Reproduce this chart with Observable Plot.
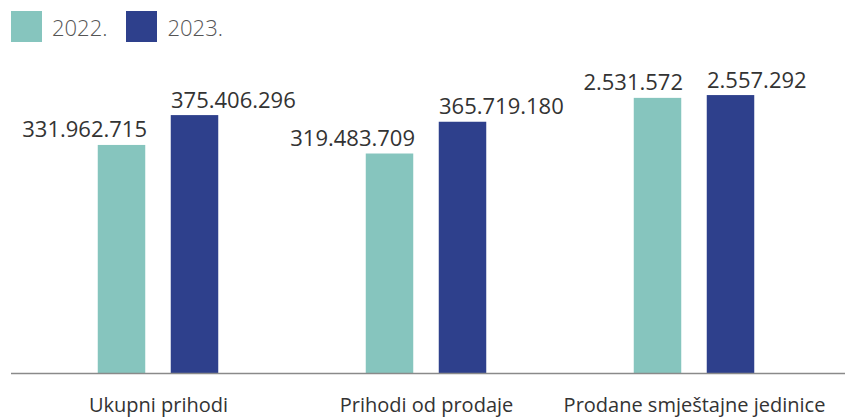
<!DOCTYPE html>
<html>
<head>
<meta charset="utf-8">
<script src="https://cdn.jsdelivr.net/npm/d3@7"></script>
<script src="https://cdn.jsdelivr.net/npm/@observablehq/plot@0.6"></script>
<style>
  body { margin: 0; background: #fff; font-family: "Open Sans", sans-serif; }
  #wrap { position: relative; width: 849px; height: 419px; overflow: hidden; }
  #legend { position: absolute; left: 11px; top: 11px; display: flex; align-items: center; font-size: 22px; font-weight: 300; color: #555; }
  #legend .sw { width: 31px; height: 31px; display: inline-block; margin-right: 10px; }
  #legend .item { display: flex; align-items: center; margin-right: 19px; }
  .p { position: absolute; top: 0; }
</style>
</head>
<body>
<div id="wrap">
  <div id="legend"></div>
  <div id="pa" class="p" style="left:0px"></div>
  <div id="pb" class="p" style="left:560px"></div>
</div>
<script>
const categories = ["Ukupni prihodi", "Prihodi od prodaje", "Prodane smještajne jedinice"];
const years = ["2022.", "2023."];
const values2022 = [331962715, 319483709, 2531572];
const values2023 = [375406296, 365719180, 2557292];
const colors = ["#86C5BE", "#2E408C"];

const hr = d3.formatLocale({decimal: ",", thousands: ".", grouping: [3], currency: ["", ""]});
const fmt = hr.format(",d");

const rows = [];
categories.forEach((c, i) => {
  rows.push({cat: c, year: years[0], value: values2022[i]});
  rows.push({cat: c, year: years[1], value: values2023[i]});
});

// legend
const leg = document.getElementById("legend");
years.forEach((y, i) => {
  const it = document.createElement("span");
  it.className = "item";
  it.innerHTML = `<span class="sw" style="background:${colors[i]}"></span>${y}`;
  leg.appendChild(it);
});

function makePlot(cats, opts) {
  const data = rows.filter(d => cats.includes(d.cat));
  const d22 = data.filter(d => d.year === years[0]);
  const d23 = data.filter(d => d.year === years[1]);
  return Plot.plot({
    width: opts.width,
    height: 419,
    marginTop: 60,
    marginBottom: 46,
    marginLeft: opts.marginLeft,
    marginRight: opts.marginRight,
    style: {fontFamily: "'Open Sans', sans-serif", color: "#333", background: "transparent", overflow: "visible"},
    x: {domain: cats, range: opts.xRange, padding: 0, axis: null},
    y: {domain: [0, opts.yMax], axis: null},
    marks: [
      Plot.barY(d22, {x: "cat", y: "value", fill: colors[0], insetLeft: 73.75, insetRight: 146.75}),
      Plot.barY(d23, {x: "cat", y: "value", fill: colors[1], insetLeft: 146.75, insetRight: 73.75}),
      Plot.text(d22, {x: "cat", y: "value", text: d => fmt(d.value), dx: -11.5, dy: -15, textAnchor: "end", fontSize: 22, fill: "#333"}),
      Plot.text(d23, {x: "cat", y: "value", text: d => fmt(d.value), dx: 12.5, dy: -15, textAnchor: "start", fontSize: 22, fill: "#333"}),
      Plot.axisX({domain: cats, tickSize: 0, tickPadding: 24, fontSize: 20, fill: "#333", label: null}),
      Plot.ruleY([0], {stroke: "#8a8a8a", strokeWidth: 1.5})
    ]
  });
}

document.getElementById("pa").appendChild(makePlot(categories.slice(0, 2), {
  width: 560, marginLeft: 11, marginRight: 0, xRange: [23, 560], yMax: 455.6e6
}));
document.getElementById("pb").appendChild(makePlot(categories.slice(2), {
  width: 289, marginLeft: 0, marginRight: 4, xRange: [0, 268.5], yMax: 2.88e6
}));
</script>
</body>
</html>
